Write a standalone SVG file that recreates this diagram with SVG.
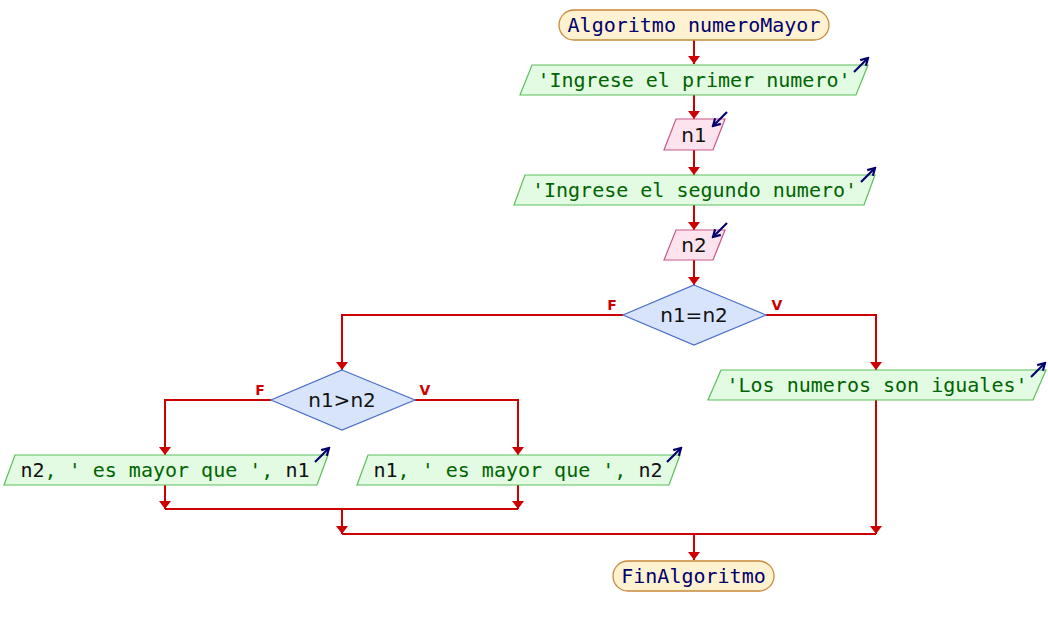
<svg xmlns="http://www.w3.org/2000/svg" width="1048" height="625" viewBox="0 0 1048 625">
<style>
.term{fill:#fff2d0;stroke:#c8893a;stroke-width:1.3}
.out{fill:#e2fbe2;stroke:#5cbf5c;stroke-width:1.2}
.in{fill:#fde3ee;stroke:#c8578a;stroke-width:1.2}
.dec{fill:#d7e4fc;stroke:#4b6fc8;stroke-width:1.2}
.mono{font-family:"DejaVu Sans Mono","Liberation Mono",monospace;font-size:20px}
.sans{font-family:"DejaVu Sans","Liberation Sans",sans-serif;font-size:20px}
.tt{fill:#00006e}
.str{fill:#006400}
.var{fill:#111111}
.conn{fill:none;stroke:#cc0000;stroke-width:2}
.icon{fill:none;stroke:#00006e;stroke-width:2.2}
.lab{font-family:"DejaVu Sans","Liberation Sans",sans-serif;font-size:14px;font-weight:bold;fill:#cc0000}
</style>
<defs>
<marker id="ia" markerUnits="userSpaceOnUse" markerWidth="10" markerHeight="10" refX="8" refY="5" orient="auto" viewBox="0 0 10 10">
<path d="M1,1 L8,5 L1,9" fill="none" stroke="#00006e" stroke-width="2.2"/>
</marker>
</defs>
<g id="connectors">
<path class="conn" d="M694,40 V64"/>
<path class="conn" d="M694,95 V119"/>
<path class="conn" d="M694,150 V175"/>
<path class="conn" d="M694,205 V230"/>
<path class="conn" d="M694,260 V285"/>
<path class="conn" d="M623,315 H342 V370"/>
<path class="conn" d="M766,315 H876 V370"/>
<path class="conn" d="M271,400 H165 V455"/>
<path class="conn" d="M415,400 H518 V455"/>
<path class="conn" d="M165,485 V509"/>
<path class="conn" d="M518,485 V509"/>
<path class="conn" d="M165,509 H518"/>
<path class="conn" d="M342,509 V534"/>
<path class="conn" d="M876,400 V534"/>
<path class="conn" d="M342,534 H876"/>
<path class="conn" d="M694,534 V560"/>
<g fill="#cc0000">
<path d="M688,56 L700,56 L694,64 Z"/>
<path d="M688,111 L700,111 L694,119 Z"/>
<path d="M688,167 L700,167 L694,175 Z"/>
<path d="M688,222 L700,222 L694,230 Z"/>
<path d="M688,277 L700,277 L694,285 Z"/>
<path d="M336,362 L348,362 L342,370 Z"/>
<path d="M870,362 L882,362 L876,370 Z"/>
<path d="M159,447 L171,447 L165,455 Z"/>
<path d="M512,447 L524,447 L518,455 Z"/>
<path d="M159,501 L171,501 L165,509 Z"/>
<path d="M512,501 L524,501 L518,509 Z"/>
<path d="M336,526 L348,526 L342,534 Z"/>
<path d="M870,526 L882,526 L876,534 Z"/>
<path d="M688,552 L700,552 L694,560 Z"/>
</g>
<text class="lab" x="612" y="310" text-anchor="middle">F</text>
<text class="lab" x="777" y="310" text-anchor="middle">V</text>
<text class="lab" x="260" y="395" text-anchor="middle">F</text>
<text class="lab" x="425" y="395" text-anchor="middle">V</text>
</g>
<g id="start">
<rect class="term" x="559" y="10" width="270" height="30" rx="15"/>
<text class="mono tt" x="694" y="32" text-anchor="middle">Algoritmo numeroMayor</text>
</g>
<g id="out1">
<polygon class="out" points="532,65 868,65 856,95 520,95"/>
<text class="mono str" x="694" y="87" text-anchor="middle">'Ingrese el primer numero'</text>
<path class="icon" d="M854,72 L868,58" marker-end="url(#ia)"/>
</g>
<g id="in1">
<polygon class="in" points="676,119 725,119 713,150 664,150"/>
<text class="sans var" x="694" y="142" text-anchor="middle">n1</text>
<path class="icon" d="M727,112 L713,126" marker-end="url(#ia)"/>
</g>
<g id="out2">
<polygon class="out" points="525,175 875,175 864,205 514,205"/>
<text class="mono str" x="694.5" y="197" text-anchor="middle">'Ingrese el segundo numero'</text>
<path class="icon" d="M861,182 L875,168" marker-end="url(#ia)"/>
</g>
<g id="in2">
<polygon class="in" points="676,230 725,230 713,260 664,260"/>
<text class="sans var" x="694" y="252" text-anchor="middle">n2</text>
<path class="icon" d="M727,223 L713,237" marker-end="url(#ia)"/>
</g>
<g id="dec1">
<polygon class="dec" points="694,285 766,315 694,345 623,315"/>
<text class="sans var" x="694" y="322" text-anchor="middle">n1=n2</text>
</g>
<g id="out3">
<polygon class="out" points="721,370 1046,370 1033,400 708,400"/>
<text class="mono str" x="877" y="392" text-anchor="middle">'Los numeros son iguales'</text>
<path class="icon" d="M1031,377 L1045,363" marker-end="url(#ia)"/>
</g>
<g id="dec2">
<polygon class="dec" points="342,370 415,400 342,430 271,400"/>
<text class="sans var" x="342" y="407" text-anchor="middle">n1&gt;n2</text>
</g>
<g id="out4">
<polygon class="out" points="15,455 328,455 317,485 4,485"/>
<text class="mono" x="165" y="477" text-anchor="middle"><tspan class="var">n2</tspan><tspan class="str">, ' es mayor que ', </tspan><tspan class="var">n1</tspan></text>
<path class="icon" d="M315,462 L329,448" marker-end="url(#ia)"/>
</g>
<g id="out5">
<polygon class="out" points="368,455 680,455 669,485 357,485"/>
<text class="mono" x="518" y="477" text-anchor="middle"><tspan class="var">n1</tspan><tspan class="str">, ' es mayor que ', </tspan><tspan class="var">n2</tspan></text>
<path class="icon" d="M667,462 L681,448" marker-end="url(#ia)"/>
</g>
<g id="end">
<rect class="term" x="613" y="561" width="161" height="30" rx="15"/>
<text class="mono tt" x="693.5" y="583" text-anchor="middle">FinAlgoritmo</text>
</g>
</svg>
